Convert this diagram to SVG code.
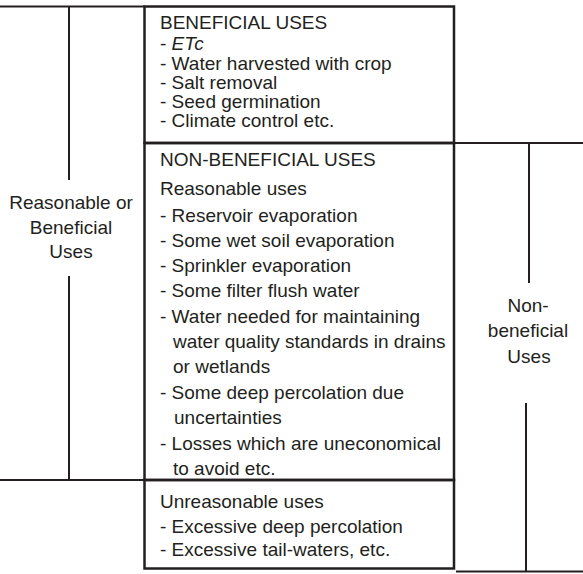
<svg xmlns="http://www.w3.org/2000/svg" width="583" height="574" viewBox="0 0 583 574">
<style>
.t{font-family:"Liberation Sans",Arial,sans-serif;font-size:19px;fill:#231f20}
.c{text-anchor:middle}
.box{fill:none;stroke:#231f20;stroke-width:2.5}
.ln{stroke:#231f20;stroke-width:2;fill:none}
</style>
<rect width="583" height="574" fill="#fff"/>
<g id="connectors">
<line class="ln" x1="0" y1="6.5" x2="145" y2="6.5"/>
<line class="ln" x1="69" y1="6.5" x2="69" y2="180"/>
<line class="ln" x1="69" y1="276" x2="69" y2="480"/>
<line class="ln" x1="0" y1="480" x2="145" y2="480"/>
<line class="ln" x1="454" y1="143" x2="583" y2="143"/>
<line class="ln" x1="529" y1="143" x2="529" y2="283"/>
<line class="ln" x1="526" y1="403" x2="526" y2="572"/>
<line class="ln" x1="456" y1="571.5" x2="583" y2="571.5"/>
</g>
<g id="beneficial-uses">
<rect class="box" x="144.5" y="6.5" width="309.5" height="136.5"/>
<text class="t" x="160" y="29">BENEFICIAL USES</text>
<text class="t" x="160" y="49.5">- <tspan font-style="italic">ETc</tspan></text>
<text class="t" x="160" y="69.5">- Water harvested with crop</text>
<text class="t" x="160" y="89">- Salt removal</text>
<text class="t" x="160" y="108">- Seed germination</text>
<text class="t" x="160" y="127">- Climate control etc.</text>
</g>
<g id="non-beneficial-uses">
<rect class="box" x="144.5" y="143" width="309.5" height="337"/>
<text class="t" x="160" y="166">NON-BENEFICIAL USES</text>
<text class="t" x="160" y="195">Reasonable uses</text>
<text class="t" x="160" y="221.5">- Reservoir evaporation</text>
<text class="t" x="160" y="246.8">- Some wet soil evaporation</text>
<text class="t" x="160" y="272">- Sprinkler evaporation</text>
<text class="t" x="160" y="297.3">- Some filter flush water</text>
<text class="t" x="160" y="322.6">- Water needed for maintaining</text>
<text class="t" x="173" y="348">water quality standards in drains</text>
<text class="t" x="173" y="373.3">or wetlands</text>
<text class="t" x="160" y="399">- Some deep percolation due</text>
<text class="t" x="174" y="424">uncertainties</text>
<text class="t" x="160" y="449.5">- Losses which are uneconomical</text>
<text class="t" x="173" y="474.5">to avoid etc.</text>
</g>
<g id="unreasonable-uses">
<rect class="box" x="144.5" y="480" width="309.5" height="88.5"/>
<text class="t" x="160" y="508">Unreasonable uses</text>
<text class="t" x="160" y="532.5">- Excessive deep percolation</text>
<text class="t" x="160" y="556">- Excessive tail-waters, etc.</text>
</g>
<g id="label-reasonable-beneficial">
<text class="t c" x="71" y="209">Reasonable or</text>
<text class="t c" x="71" y="233.5">Beneficial</text>
<text class="t c" x="71" y="258">Uses</text>
</g>
<g id="label-non-beneficial">
<text class="t c" x="528" y="311.5">Non-</text>
<text class="t c" x="528" y="337">beneficial</text>
<text class="t c" x="529" y="362.5">Uses</text>
</g>
</svg>
